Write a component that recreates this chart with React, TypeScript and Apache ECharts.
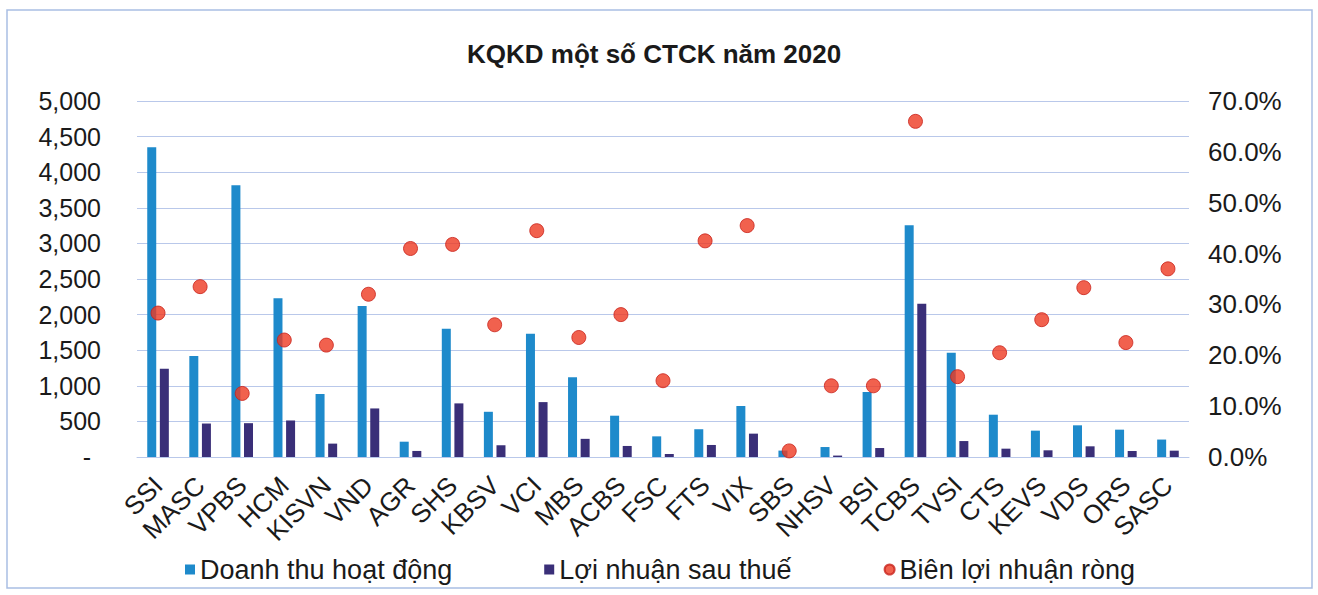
import React, { useEffect, useRef } from "react";
import * as echarts from "echarts";

const categories = ["SSI", "MASC", "VPBS", "HCM", "KISVN", "VND", "AGR", "SHS", "KBSV", "VCI", "MBS", "ACBS", "FSC", "FTS", "VIX", "SBS", "NHSV", "BSI", "TCBS", "TVSI", "CTS", "KEVS", "VDS", "ORS", "SASC"];
const revenue = [4350, 1420, 3815, 2230, 885, 2120, 215, 1800, 635, 1730, 1120, 580, 290, 390, 716, 90, 140, 913, 3254, 1463, 594, 370, 445, 384, 245];
const profit = [1240, 470, 475, 513, 188, 682, 85, 753, 165, 771, 255, 155, 42, 169, 328, 1, 20, 126, 2154, 224, 117, 94, 150, 84, 89];
const margin = [0.283, 0.335, 0.125, 0.23, 0.22, 0.32, 0.41, 0.418, 0.26, 0.445, 0.235, 0.28, 0.15, 0.425, 0.455, 0.012, 0.14, 0.14, 0.66, 0.158, 0.205, 0.27, 0.333, 0.225, 0.37];
const seriesNames = ["Doanh thu hoạt động", "Lợi nhuận sau thuế", "Biên lợi nhuận ròng"];
const title = "KQKD một số CTCK năm 2020";

export default function App() {
  const ref = useRef<HTMLDivElement>(null);
  useEffect(() => {
    document.body.style.margin = "0";
    const chart = echarts.init(ref.current!, null, { renderer: "svg" });
    const font = "Arial, 'Liberation Sans', sans-serif";
    chart.setOption({
      animation: false,
      backgroundColor: "#ffffff",
      textStyle: { fontFamily: font },
      title: {
        text: title,
        left: 462,
        top: 36,
        textStyle: { fontSize: 26, fontWeight: "bold", color: "#1a1a1a", fontFamily: font },
      },
      graphic: [
        {
          type: "rect",
          shape: { x: 7, y: 10, width: 1305, height: 578 },
          style: { fill: "none", stroke: "#A9BEE3", lineWidth: 1.5 },
          silent: true,
        },
      ],
      legend: {
        top: 551,
        left: 180,
        itemWidth: 10,
        itemHeight: 10,
        itemGap: 92,
        textStyle: { fontSize: 27, color: "#1a1a1a", fontFamily: font },
        data: [
          { name: seriesNames[0], icon: "rect" },
          { name: seriesNames[1], icon: "rect" },
          { name: seriesNames[2], icon: "circle" },
        ],
      },
      grid: { left: 137, right: 129, top: 101, bottom: 138, containLabel: false },
      xAxis: {
        type: "category",
        data: categories,
        axisTick: { show: false },
        axisLine: { lineStyle: { color: "#B9C8EA", width: 1 } },
        axisLabel: { rotate: 45, interval: 0, fontSize: 26, color: "#1a1a1a", margin: 24, fontFamily: font },
      },
      yAxis: [
        {
          type: "value",
          min: 0,
          max: 5000,
          interval: 500,
          axisLine: { show: false },
          axisTick: { show: false },
          splitLine: { lineStyle: { color: "#B9C8EA", width: 1 } },
          axisLabel: {
            fontSize: 25,
            color: "#1a1a1a",
            margin: 36,
            fontFamily: font,
            formatter: (v: number) => (v === 0 ? "{d|-}" : v.toLocaleString("en-US")),
            rich: { d: { fontSize: 25, color: "#1a1a1a", padding: [0, 10, 0, 0] } },
          },
        },
        {
          type: "value",
          min: 0,
          max: 0.7,
          interval: 0.1,
          position: "right",
          axisLine: { show: false },
          axisTick: { show: false },
          splitLine: { show: false },
          axisLabel: {
            fontSize: 26,
            color: "#1a1a1a",
            margin: 19,
            fontFamily: font,
            formatter: (v: number) => (v * 100).toFixed(1) + "%",
          },
        },
      ],
      series: [
        {
          name: seriesNames[0],
          type: "bar",
          data: revenue,
          barWidth: 9,
          barGap: "40%",
          itemStyle: { color: "#1E8ACB" },
        },
        {
          name: seriesNames[1],
          type: "bar",
          data: profit,
          barWidth: 9,
          itemStyle: { color: "#3A2F78" },
        },
        {
          name: seriesNames[2],
          type: "scatter",
          yAxisIndex: 1,
          data: margin,
          symbolSize: 14,
          itemStyle: { color: "#EE3A22", borderColor: "#C8221A", borderWidth: 1 },
          z: 5,
        },
      ],
    });
    return () => chart.dispose();
  }, []);
  return <div ref={ref} style={{ width: 1318, height: 595 }} />;
}
